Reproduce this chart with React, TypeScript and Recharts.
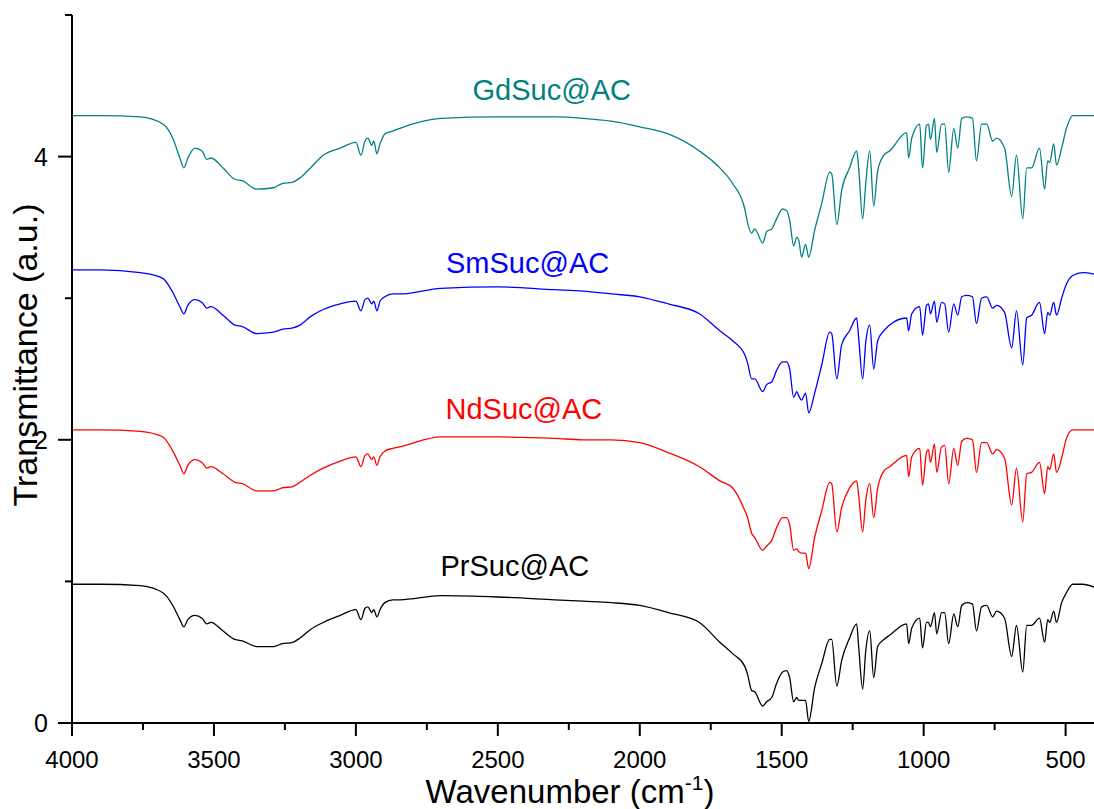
import React from "react"
import { LineChart, Line, XAxis, YAxis, ReferenceDot } from "recharts"

// wavenumber grid (cm-1)
const wavenumbers = [
  4000, 3900, 3760, 3680, 3645, 3620, 3606, 3592, 3567, 3542, 3525, 3511, 3468, 3426, 3400, 3350,
  3290, 3260, 3222, 3197, 3160, 3115, 3055, 3000, 2982, 2968, 2958, 2944, 2937, 2926, 2915, 2898,
  2870, 2845, 2700, 2500, 2300, 2200, 2100, 2000, 1900, 1790, 1718, 1673, 1630, 1620, 1606, 1595,
  1567, 1553, 1535, 1518, 1497, 1483, 1472, 1458, 1447, 1440, 1430, 1416, 1405, 1384, 1359, 1331,
  1324, 1306, 1289, 1261, 1236, 1229, 1215, 1204, 1190, 1176, 1162, 1140, 1120, 1060, 1053, 1042,
  1014, 1004, 990, 983, 976, 962, 954, 937, 926, 912, 894, 880, 866, 849, 828, 814,
  796, 778, 757, 743, 715, 690, 673, 651, 637, 620, 592, 574, 563, 556, 542, 532,
  514, 497, 475, 440, 400,
]

const gdSuc = [
  4.29, 4.29, 4.28, 4.23, 4.13, 3.99, 3.92, 3.99, 4.06, 4.04, 3.98, 3.99, 3.92, 3.84, 3.83, 3.77,
  3.78, 3.81, 3.82, 3.85, 3.92, 4.01, 4.06, 4.1, 4.01, 4.11, 4.13, 4.08, 4.11, 4.02, 4.09, 4.16,
  4.18, 4.2, 4.27, 4.28, 4.28, 4.27, 4.25, 4.21, 4.16, 4.04, 3.92, 3.81, 3.63, 3.53, 3.46, 3.49,
  3.39, 3.47, 3.49, 3.56, 3.63, 3.62, 3.55, 3.37, 3.43, 3.41, 3.29, 3.38, 3.29, 3.48, 3.67, 3.89,
  3.88, 3.52, 3.76, 3.92, 4.04, 3.92, 3.56, 3.81, 4.04, 3.65, 3.9, 4.01, 4.04, 4.17, 3.99, 4.13,
  4.23, 3.92, 4.22, 4.23, 4.12, 4.27, 4.03, 4.23, 4.23, 3.89, 4.2, 4.06, 4.27, 4.28, 4.27, 3.97,
  4.23, 4.23, 4.11, 4.13, 4.06, 3.72, 4.01, 3.56, 3.92, 3.92, 4.06, 3.77, 3.97, 3.96, 4.09, 3.94,
  4.06, 4.2, 4.29, 4.29, 4.29,
]

const smSuc = [
  3.2, 3.2, 3.18, 3.14, 3.04, 2.94, 2.89, 2.95, 2.99, 2.97, 2.93, 2.94, 2.88, 2.81, 2.8, 2.75,
  2.76, 2.78, 2.79, 2.81, 2.87, 2.92, 2.96, 2.98, 2.91, 2.99, 3.0, 2.96, 2.98, 2.91, 2.98, 3.01,
  3.03, 3.03, 3.07, 3.08, 3.06, 3.05, 3.03, 3.01, 2.96, 2.89, 2.77, 2.7, 2.6, 2.54, 2.43, 2.43,
  2.34, 2.39, 2.41, 2.49, 2.55, 2.55, 2.5, 2.3, 2.34, 2.31, 2.28, 2.33, 2.19, 2.33, 2.53, 2.76,
  2.75, 2.43, 2.67, 2.77, 2.86, 2.72, 2.43, 2.69, 2.81, 2.5, 2.7, 2.77, 2.81, 2.86, 2.77, 2.89,
  2.94, 2.74, 2.95, 2.96, 2.89, 2.98, 2.83, 2.97, 2.96, 2.76, 2.96, 2.88, 3.01, 3.02, 3.01, 2.82,
  3.0, 3.01, 2.93, 2.95, 2.9, 2.65, 2.91, 2.53, 2.86, 2.88, 2.97, 2.75, 2.9, 2.88, 2.97, 2.88,
  3.0, 3.1, 3.16, 3.18, 3.17,
]

const ndSuc = [
  2.07, 2.07, 2.06, 2.02, 1.92, 1.82, 1.76, 1.82, 1.86, 1.84, 1.8, 1.81, 1.76, 1.7, 1.69, 1.64,
  1.64, 1.66, 1.67, 1.7, 1.75, 1.8, 1.85, 1.88, 1.81, 1.89, 1.9, 1.86, 1.88, 1.82, 1.88, 1.92,
  1.94, 1.95, 2.02, 2.02, 2.01, 2.0, 2.0, 1.98, 1.91, 1.81, 1.71, 1.66, 1.5, 1.45, 1.34, 1.31,
  1.22, 1.25, 1.29, 1.38, 1.45, 1.45, 1.4, 1.22, 1.23, 1.21, 1.2, 1.2, 1.09, 1.31, 1.5, 1.7,
  1.69, 1.35, 1.52, 1.66, 1.71, 1.61, 1.35, 1.57, 1.69, 1.45, 1.66, 1.78, 1.81, 1.89, 1.74, 1.88,
  1.94, 1.68, 1.91, 1.93, 1.84, 1.97, 1.77, 1.95, 1.96, 1.69, 1.94, 1.82, 1.99, 2.01, 2.0, 1.77,
  1.98, 1.98, 1.9, 1.93, 1.87, 1.54, 1.8, 1.42, 1.76, 1.77, 1.84, 1.62, 1.81, 1.79, 1.9, 1.77,
  1.87, 2.01, 2.07, 2.07, 2.07,
]

const prSuc = [
  0.98, 0.98, 0.97, 0.92, 0.83, 0.73, 0.68, 0.73, 0.76, 0.74, 0.7, 0.71, 0.65, 0.59, 0.58, 0.54,
  0.54, 0.56, 0.57, 0.6, 0.66, 0.71, 0.76, 0.8, 0.73, 0.81, 0.82, 0.78, 0.8, 0.75, 0.8, 0.85,
  0.87, 0.87, 0.9, 0.89, 0.87, 0.86, 0.85, 0.83, 0.78, 0.71, 0.57, 0.49, 0.4, 0.34, 0.23, 0.22,
  0.12, 0.15, 0.18, 0.28, 0.36, 0.37, 0.32, 0.15, 0.18, 0.16, 0.16, 0.16, 0.01, 0.25, 0.42, 0.59,
  0.59, 0.26, 0.44, 0.6, 0.7, 0.54, 0.24, 0.51, 0.65, 0.32, 0.54, 0.59, 0.62, 0.7, 0.56, 0.67,
  0.74, 0.53, 0.71, 0.71, 0.68, 0.78, 0.63, 0.78, 0.78, 0.56, 0.77, 0.68, 0.83, 0.85, 0.84, 0.65,
  0.82, 0.83, 0.75, 0.79, 0.74, 0.47, 0.69, 0.36, 0.69, 0.69, 0.74, 0.57, 0.73, 0.71, 0.79, 0.71,
  0.85, 0.92, 0.98, 0.98, 0.96,
]

const xTicks = [500, 750, 1000, 1250, 1500, 1750, 2000, 2250, 2500, 2750, 3000, 3250, 3500, 3750, 4000]
const yTicks = [0, 1, 2, 3, 4, 5]

const series = [
  { key: "gd", name: "GdSuc@AC", color: "#008080", labelX: 2310, labelY: 4.47 },
  { key: "sm", name: "SmSuc@AC", color: "#0000ff", labelX: 2395, labelY: 3.25 },
  { key: "nd", name: "NdSuc@AC", color: "#ff0000", labelX: 2408, labelY: 2.22 },
  { key: "pr", name: "PrSuc@AC", color: "#000000", labelX: 2440, labelY: 1.11 },
]

const data = wavenumbers.map((w, i) => ({
  w,
  gd: gdSuc[i],
  sm: smSuc[i],
  nd: ndSuc[i],
  pr: prSuc[i],
}))

const FONT = "Arial, 'Liberation Sans', sans-serif"

const XTick = ({ x, y, payload }: any) => {
  const major = payload.value % 500 === 0
  return (
    <g>
      <line x1={x} x2={x} y1={y} y2={y + (major ? 13 : 7)} stroke="#000" strokeWidth={2} />
      {major && (
        <text x={x} y={y + 45} textAnchor="middle" fontSize={24} fontFamily={FONT} fill="#000">
          {payload.value}
        </text>
      )}
    </g>
  )
}

const YTick = ({ x, y, payload }: any) => {
  const major = payload.value % 2 === 0
  return (
    <g>
      <line x1={x} x2={x - (major ? 14 : 7)} y1={y} y2={y} stroke="#000" strokeWidth={2} />
      {major && (
        <text x={x - 24} y={y + 9} textAnchor="end" fontSize={25} fontFamily={FONT} fill="#000">
          {payload.value}
        </text>
      )}
    </g>
  )
}

export default function App() {
  return (
    <div style={{ position: "absolute", left: 0, top: 0, background: "#fff" }}>
      <LineChart width={1094} height={809} data={data} margin={{ top: 15, right: 0, bottom: 0, left: 0 }}>
        <XAxis
          dataKey="w"
          type="number"
          domain={[400, 4000]}
          reversed
          ticks={xTicks}
          interval={0}
          tick={<XTick />}
          tickLine={false}
          tickSize={0}
          tickMargin={0}
          height={86}
          axisLine={{ stroke: "#000", strokeWidth: 2 }}
          label={{
            content: () => (
              <text x={570} y={803} textAnchor="middle" fontSize={33} fontFamily={FONT} fill="#000">
                Wavenumber (cm
                <tspan dy={-13} fontSize={21}>-1</tspan>
                <tspan dy={13}>)</tspan>
              </text>
            ),
          }}
        />
        <YAxis
          type="number"
          domain={[0, 5]}
          ticks={yTicks}
          interval={0}
          tick={<YTick />}
          tickLine={false}
          tickSize={0}
          tickMargin={0}
          width={72}
          axisLine={{ stroke: "#000", strokeWidth: 2 }}
          label={{
            content: () => (
              <text
                x={37}
                y={355}
                transform="rotate(-90, 37, 355)"
                textAnchor="middle"
                fontSize={34}
                fontFamily={FONT}
                fill="#000"
              >
                Transmittance (a.u.)
              </text>
            ),
          }}
        />
        {series.map((s) => (
          <Line
            key={s.key}
            type="monotone"
            dataKey={s.key}
            stroke={s.color}
            strokeWidth={1.3}
            dot={false}
            isAnimationActive={false}
          />
        ))}
        {series.map((s) => (
          <ReferenceDot
            key={`lbl-${s.key}`}
            x={s.labelX}
            y={s.labelY}
            r={1}
            fill="none"
            stroke="none"
            label={{ value: s.name, position: "center", fill: s.color, fontSize: 29, fontFamily: FONT }}
          />
        ))}
      </LineChart>
    </div>
  )
}
